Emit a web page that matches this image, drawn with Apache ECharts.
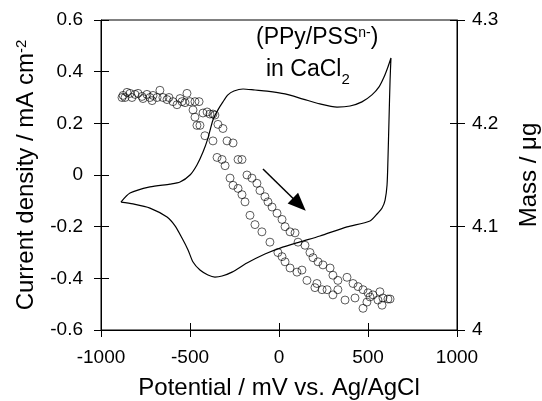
<!DOCTYPE html>
<html>
<head>
<meta charset="utf-8">
<script src="https://cdn.jsdelivr.net/npm/echarts@6/dist/echarts.min.js"></script>
<style>
  html, body { margin: 0; padding: 0; background: #fff; }
  #chart { width: 542px; height: 401px; }
</style>
</head>
<body>
<div id="chart"></div>
<script>
// cyclic voltammogram (potential mV, current density mA cm-2)
var cvX = [-888, -837, -725, -612, -556, -500, -461, -427, -399, -371, -343, -315, -287, -253, -202, -135, -67, 34, 135, 230, 326, 399, 466, 522, 562, 590, 612, 629,
    624, 618, 612, 607, 596, 579, 556, 511, 382, 230, 118, 6, -79, -180, -264, -320, -360, -399, -444, -483, -511, -545, -584, -629, -725, -820, -888]
var cvY = [-0.105, -0.070, -0.046, -0.035, -0.027, 0.000, 0.039, 0.089, 0.143, 0.213, 0.252, 0.283, 0.310, 0.325, 0.333, 0.329, 0.325, 0.314, 0.294, 0.275, 0.263, 0.267, 0.283, 0.310, 0.341, 0.379, 0.418, 0.453,
    0.368, 0.213, 0.058, -0.039, -0.097, -0.128, -0.147, -0.178, -0.201, -0.236, -0.259, -0.283, -0.306, -0.341, -0.376, -0.391, -0.395, -0.387, -0.368, -0.337, -0.290, -0.244, -0.197, -0.163, -0.128, -0.112, -0.105]

// mass (ug) against potential
var massX = [-882, -876, -865, -854, -837, -826, -809, -792, -770, -764, -742, -725, -713, -708, -685, -669, -652, -629, -618, -596, -573, -556, -545, -528, -517, -500, -472, -449,
    -483, -472, -461, -444, -416, -371, -348, -320, -303, -275, -258, -230, -208, -191, -163, -135, -96, -51, -6, 17, 34, 62, 101, 129, 157, 213, 202, 242, 270, 303, 331, 371, 427, 472, 494, 511, 556, 579, 612,
    -427, -404, -388, -371, -360, -343, -315, -292, -258, -230, -208, -180, -152, -124, -107, -79, -62, -39, -11, 17, 34, 62, 90, 107, 146, 174, 191, 219, 247, 287, 303, 331, 382, 416, 444, 472, 500, 528, 567, 584, 624]
var massY = [4.225, 4.227, 4.225, 4.230, 4.229, 4.225, 4.228, 4.229, 4.226, 4.224, 4.228, 4.225, 4.222, 4.227, 4.225, 4.232, 4.225, 4.223, 4.225, 4.221, 4.218, 4.224, 4.221, 4.220, 4.229, 4.221, 4.221, 4.221,
    4.213, 4.206, 4.198, 4.198, 4.188, 4.183, 4.167, 4.165, 4.159, 4.147, 4.140, 4.137, 4.131, 4.124, 4.111, 4.102, 4.095, 4.085, 4.075, 4.071, 4.066, 4.060, 4.056, 4.058, 4.048, 4.045, 4.041, 4.039, 4.039, 4.034, 4.039, 4.029, 4.031, 4.021, 4.027, 4.032, 4.029, 4.024, 4.030,
    4.210, 4.211, 4.209, 4.209, 4.208, 4.199, 4.195, 4.183, 4.181, 4.165, 4.165, 4.150, 4.147, 4.142, 4.135, 4.129, 4.124, 4.119, 4.113, 4.107, 4.100, 4.095, 4.094, 4.085, 4.082, 4.075, 4.070, 4.066, 4.063, 4.060, 4.053, 4.048, 4.051, 4.045, 4.042, 4.039, 4.036, 4.034, 4.037, 4.031, 4.030]

// scan direction arrow, in potential / current units
var arrowStart = [-90, 0.023]
var arrowEnd = [114, -0.114]

var font = 'Liberation Sans, Arial, sans-serif'

var pairs = function(xs, ys) {
    var out = []
    for (var i = 0; i < xs.length; i++) {
        out.push([xs[i], ys[i]])
    }
    return out
}

var chart = echarts.init(document.getElementById('chart'), null, {renderer: 'canvas'})

var plain = (v) => String(v)
var tickLabel = {color: '#000', fontSize: 19, fontFamily: font, formatter: plain}
var blackLine = {onZero: false, lineStyle: {color: '#000', width: 1}}
var noLine = {show: false, onZero: false}

var option = {
    backgroundColor: '#fff',
    animation: false,
    grid: {
        left: 101, right: 85, top: 20, bottom: 71,
        outerBoundsMode: 'none', containLabel: false,
        show: true, borderColor: '#000', borderWidth: 1
    },
    graphic: [
        {
            type: 'text', left: 256, top: 26,
            style: {
                text: '(PPy/PSS{sup|n-})',
                fill: '#000', font: '23px ' + font,
                rich: {sup: {fontSize: 14, fontFamily: font, verticalAlign: 'top', lineHeight: 14}}
            }
        },
        {
            type: 'text', left: 266, top: 58,
            style: {
                text: 'in CaCl{sub|2}',
                fill: '#000', font: '23px ' + font,
                rich: {sub: {fontSize: 15, fontFamily: font, verticalAlign: 'bottom', lineHeight: 15, padding: [0, 0, -6, 0]}}
            }
        }
    ],
    xAxis: [
        {
            type: 'value', position: 'bottom', min: -1000, max: 1000, interval: 500,
            name: 'Potential / mV vs. Ag/AgCl', nameLocation: 'middle', nameGap: 46,
            nameTextStyle: {color: '#000', fontSize: 24, fontFamily: font},
            axisLine: blackLine,
            axisTick: {inside: false, length: 7, lineStyle: {color: '#000'}},
            axisLabel: Object.assign({margin: 18}, tickLabel),
            splitLine: {show: false}
        },
        {
            type: 'value', position: 'bottom', min: -1000, max: 1000, interval: 500,
            axisLine: noLine,
            axisTick: {inside: true, length: 7, lineStyle: {color: '#000'}},
            axisLabel: {show: false},
            splitLine: {show: false}
        }
    ],
    yAxis: [
        {
            type: 'value', position: 'left', min: -0.6, max: 0.6, interval: 0.2,
            name: 'Current density / mA cm{sup|-2}', nameLocation: 'middle', nameGap: 63, nameRotate: 90,
            nameTextStyle: {
                color: '#000', fontSize: 24, fontFamily: font,
                rich: {sup: {fontSize: 15, fontFamily: font, color: '#000', verticalAlign: 'top', lineHeight: 15}}
            },
            axisLine: blackLine,
            axisTick: {inside: false, length: 7, lineStyle: {color: '#000'}},
            axisLabel: Object.assign({margin: 18}, tickLabel),
            splitLine: {show: false}
        },
        {
            type: 'value', position: 'right', min: 4, max: 4.3, interval: 0.1,
            name: 'Mass / μg', nameLocation: 'middle', nameGap: 60, nameRotate: 90,
            nameTextStyle: {color: '#000', fontSize: 24, fontFamily: font},
            axisLine: blackLine,
            axisTick: {inside: false, length: 8, lineStyle: {color: '#000'}},
            axisLabel: Object.assign({margin: 15}, tickLabel),
            splitLine: {show: false}
        },
        {
            type: 'value', position: 'left', min: -0.6, max: 0.6, interval: 0.2,
            axisLine: noLine,
            axisTick: {inside: true, length: 8, lineStyle: {color: '#000'}},
            axisLabel: {show: false},
            splitLine: {show: false}
        },
        {
            type: 'value', position: 'right', min: 4, max: 4.3, interval: 0.1,
            axisLine: noLine,
            axisTick: {inside: true, length: 7, lineStyle: {color: '#000'}},
            axisLabel: {show: false},
            splitLine: {show: false}
        }
    ],
    series: [
        {
            name: 'current',
            type: 'line',
            xAxisIndex: 0, yAxisIndex: 0,
            data: pairs(cvX, cvY),
            showSymbol: false,
            smooth: 0.25,
            lineStyle: {color: '#000', width: 1.2},
            markLine: {
                silent: true,
                symbol: ['none', 'triangle'],
                symbolSize: [15, 18],
                label: {show: false},
                lineStyle: {color: '#000', width: 1.5, type: 'solid'},
                itemStyle: {color: '#000'},
                data: [[{coord: arrowStart}, {coord: arrowEnd}]]
            }
        },
        {
            name: 'mass',
            type: 'scatter',
            xAxisIndex: 0, yAxisIndex: 1,
            data: pairs(massX, massY),
            symbol: 'circle',
            symbolSize: 8,
            itemStyle: {color: 'rgba(0,0,0,0)', borderColor: '#000', borderWidth: 0.8}
        }
    ]
}

chart.setOption(option)
</script>
</body>
</html>
